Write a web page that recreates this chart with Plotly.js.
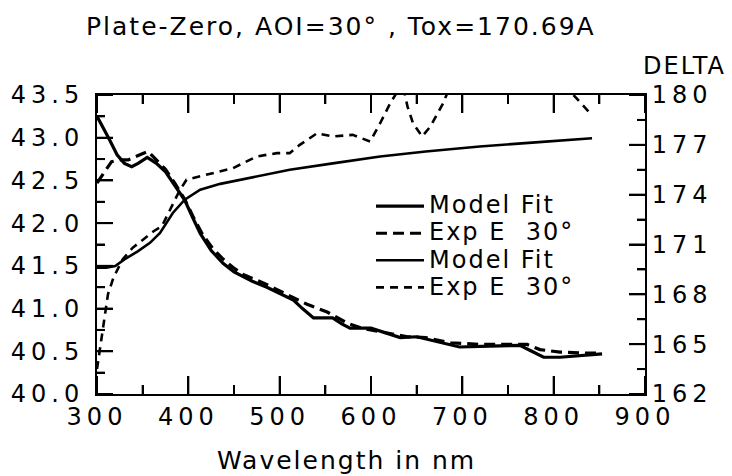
<!DOCTYPE html>
<html>
<head>
<meta charset="utf-8">
<script src="https://cdn.plot.ly/plotly-3.0.1.min.js"></script>
<style>
html,body{margin:0;padding:0;background:#fff;}
#chart{width:732px;height:476px;}
.xtick text, .ytick text, .y2tick text { letter-spacing: 5px; }
.legendtext { font-size: 24px !important; letter-spacing: 2px; }
.annotation-text { letter-spacing: 2px; }
</style>
</head>
<body>
<div id="chart"></div>
<script>
// Psi (left axis) - model fit
const psiModelWl = [300, 307, 314, 322, 330, 338, 345, 355, 365, 375, 385, 396, 405, 413, 425, 438, 450, 460, 470, 486, 500, 515, 525, 537, 548, 558, 568, 577, 600, 632, 650, 670, 697, 730, 763, 776, 789, 807, 830, 853];
const psiModel   = [43.25, 43.10, 42.97, 42.80, 42.70, 42.66, 42.70, 42.77, 42.70, 42.60, 42.45, 42.27, 42.06, 41.88, 41.68, 41.53, 41.43, 41.37, 41.32, 41.25, 41.18, 41.10, 41.00, 40.89, 40.89, 40.89, 40.82, 40.77, 40.77, 40.66, 40.67, 40.62, 40.55, 40.56, 40.57, 40.50, 40.43, 40.43, 40.45, 40.47];
// Psi (left axis) - experiment
const psiExpWl = [300, 309, 316, 325, 334, 347, 356, 365, 375, 385, 396, 405, 416, 427, 438, 449, 460, 482, 505, 530, 552, 574, 590, 617, 640, 660, 687, 720, 750, 771, 785, 807, 830, 851];
const psiExp   = [42.47, 42.62, 42.72, 42.74, 42.74, 42.80, 42.84, 42.74, 42.63, 42.47, 42.28, 42.08, 41.86, 41.70, 41.58, 41.48, 41.40, 41.30, 41.18, 41.05, 40.96, 40.83, 40.77, 40.72, 40.67, 40.66, 40.60, 40.58, 40.58, 40.58, 40.52, 40.49, 40.48, 40.48];
// Delta (right axis) - model fit
const deltaModelWl = [300, 310, 320, 330, 345, 358, 369, 383, 396, 413, 435, 457, 485, 511, 560, 610, 660, 719, 780, 842];
const deltaModel   = [169.6, 169.6, 169.7, 170.1, 170.6, 171.1, 171.7, 172.9, 173.7, 174.3, 174.65, 174.9, 175.2, 175.5, 175.9, 176.3, 176.6, 176.9, 177.15, 177.4];
// Delta (right axis) - experiment
const deltaExpWl = [300, 304, 309, 312, 318, 328, 339, 350, 362, 371, 382, 390, 398, 420, 449, 475, 497, 511, 522, 541, 558, 580, 599, 610, 621, 630, 636, 640, 646, 656, 665, 679, 690, 720, 780, 815, 828, 840];
const deltaExp   = [163.5, 165.0, 166.6, 168.0, 169.0, 170.1, 170.8, 171.3, 171.8, 172.1, 173.3, 174.2, 174.9, 175.2, 175.6, 176.3, 176.5, 176.5, 177.0, 177.7, 177.5, 177.6, 177.2, 178.3, 179.5, 180.3, 180.3, 179.3, 178.3, 177.5, 178.1, 179.5, 181.0, 183.0, 183.0, 180.4, 179.6, 178.9];

// Axis ranges and tick positions
const xRange = [300, 900];
const yLeftRange = [40, 43.5];
const yRightRange = [162, 180];
const xMajorTicks = [300, 400, 500, 600, 700, 800, 900];
const xMinorTicks = [350, 450, 550, 650, 750, 850];
const yLeftMajorTicks = [40.0, 40.5, 41.0, 41.5, 42.0, 42.5, 43.0, 43.5];
const yLeftMinorTicks = [40.25, 40.75, 41.25, 41.75, 42.25, 42.75, 43.25];
const yRightMajorTicks = [162, 165, 168, 171, 174, 177, 180];
const yRightMinorTicks = [163.5, 166.5, 169.5, 172.5, 175.5, 178.5];

const titleText = "Plate-Zero, AOI=30° , Tox=170.69A";
const xTitle = "Wavelength in nm";
const y2Title = "DELTA";
const legendNames = ["Model Fit", "Exp E  30°", "Model Fit", "Exp E  30°"];

const W = 732, H = 476, M = {l: 97, r: 87, t: 95, b: 82};
const plotW = W - M.l - M.r, plotH = H - M.t - M.b;
// pixel lengths converted to axis units
const pxX = (xRange[1] - xRange[0]) / plotW;
const pxYL = (yLeftRange[1] - yLeftRange[0]) / plotH;
const pxYR = (yRightRange[1] - yRightRange[0]) / plotH;

// Tick marks as line segments on the axes (axis decoration)
function xTickTrace(vals, len) {
  const x = [], y = [];
  vals.forEach(function(v) {
    x.push(v, v, null, v, v, null);
    y.push(yLeftRange[0], yLeftRange[0] + len * pxYL, null, yLeftRange[1], yLeftRange[1] - len * pxYL, null);
  });
  return {x: x, y: y, mode: 'lines', line: {color: '#000', width: 2}, showlegend: false, hoverinfo: 'skip', yaxis: 'y', cliponaxis: false};
}
function yTickTrace(vals, len, axis, right) {
  const x = [], y = [];
  vals.forEach(function(v) {
    if (right) { x.push(xRange[1], xRange[1] - len * pxX, null); }
    else { x.push(xRange[0], xRange[0] + len * pxX, null); }
    y.push(v, v, null);
  });
  return {x: x, y: y, mode: 'lines', line: {color: '#000', width: 2}, showlegend: false, hoverinfo: 'skip', yaxis: axis, cliponaxis: false};
}

const F = "DejaVu Sans";
const traces = [
  xTickTrace(xMajorTicks, 18), xTickTrace(xMinorTicks, 9),
  yTickTrace(yLeftMajorTicks, 16, 'y', false), yTickTrace(yLeftMinorTicks, 8, 'y', false),
  yTickTrace(yRightMajorTicks, 16, 'y2', true), yTickTrace(yRightMinorTicks, 8, 'y2', true),
  {x: psiModelWl, y: psiModel, name: legendNames[0], mode: 'lines', line: {color: '#000', width: 3.2}, yaxis: 'y'},
  {x: psiExpWl, y: psiExp, name: legendNames[1], mode: 'lines', line: {color: '#000', width: 3.2, dash: '11px,6px'}, yaxis: 'y'},
  {x: deltaModelWl, y: deltaModel, name: legendNames[2], mode: 'lines', line: {color: '#000', width: 2.6}, yaxis: 'y2'},
  {x: deltaExpWl, y: deltaExp, name: legendNames[3], mode: 'lines', line: {color: '#000', width: 2.6, dash: '8px,6px'}, yaxis: 'y2'}
];

const layout = {
  width: W, height: H,
  margin: M,
  paper_bgcolor: '#fff', plot_bgcolor: '#fff',
  font: {family: F, color: '#000', size: 24},
  showlegend: true,
  legend: {x: 0.5, y: 0.69, xanchor: 'left', yanchor: 'top', bgcolor: 'rgba(0,0,0,0)', font: {size: 18.5, family: F}, tracegroupgap: 0, itemwidth: 48},
  xaxis: {
    range: xRange, dtick: 100, tick0: 300, showgrid: false, zeroline: false,
    showline: true, linecolor: '#000', linewidth: 2, mirror: 'ticks',
    ticks: 'inside', ticklen: 18, tickwidth: 2, tickcolor: '#000',
    minor: {dtick: 50, ticks: 'inside', ticklen: 9, tickwidth: 2, tickcolor: '#000', showgrid: false},
    tickfont: {size: 24, family: F}, title: {text: ''}
  },
  yaxis: {
    range: yLeftRange, dtick: 0.5, tick0: 40, tickformat: '.1f', showgrid: false, zeroline: false,
    showline: true, linecolor: '#000', linewidth: 2,
    ticks: 'inside', ticklen: 16, tickwidth: 2, tickcolor: '#000', ticklabelstandoff: 6,
    minor: {dtick: 0.25, ticks: 'inside', ticklen: 8, tickwidth: 2, tickcolor: '#000', showgrid: false},
    tickfont: {size: 24, family: F}
  },
  yaxis2: {
    range: yRightRange, dtick: 3, tick0: 162, overlaying: 'y', side: 'right', showgrid: false, zeroline: false,
    showline: true, linecolor: '#000', linewidth: 2,
    ticks: 'inside', ticklen: 16, tickwidth: 2, tickcolor: '#000',
    minor: {dtick: 1.5, ticks: 'inside', ticklen: 8, tickwidth: 2, tickcolor: '#000', showgrid: false},
    tickfont: {size: 24, family: F}
  },
  annotations: [
    {text: titleText, xref: 'paper', yref: 'paper', x: 0.445, y: 1.0, yshift: 69, xanchor: 'center', yanchor: 'middle', showarrow: false, font: {size: 25, family: F}},
    {text: y2Title, xref: 'paper', yref: 'paper', x: 1.0, xshift: 83, y: 1.0, yshift: 29, xanchor: 'right', yanchor: 'middle', showarrow: false, font: {size: 24, family: F}},
    {text: xTitle, xref: 'paper', yref: 'paper', x: 0.455, y: 0, yshift: -66, xanchor: 'center', yanchor: 'middle', showarrow: false, font: {size: 25, family: F}}
  ]
};

Plotly.newPlot('chart', traces, layout, {staticPlot: true, displayModeBar: false});
</script>
</body>
</html>
